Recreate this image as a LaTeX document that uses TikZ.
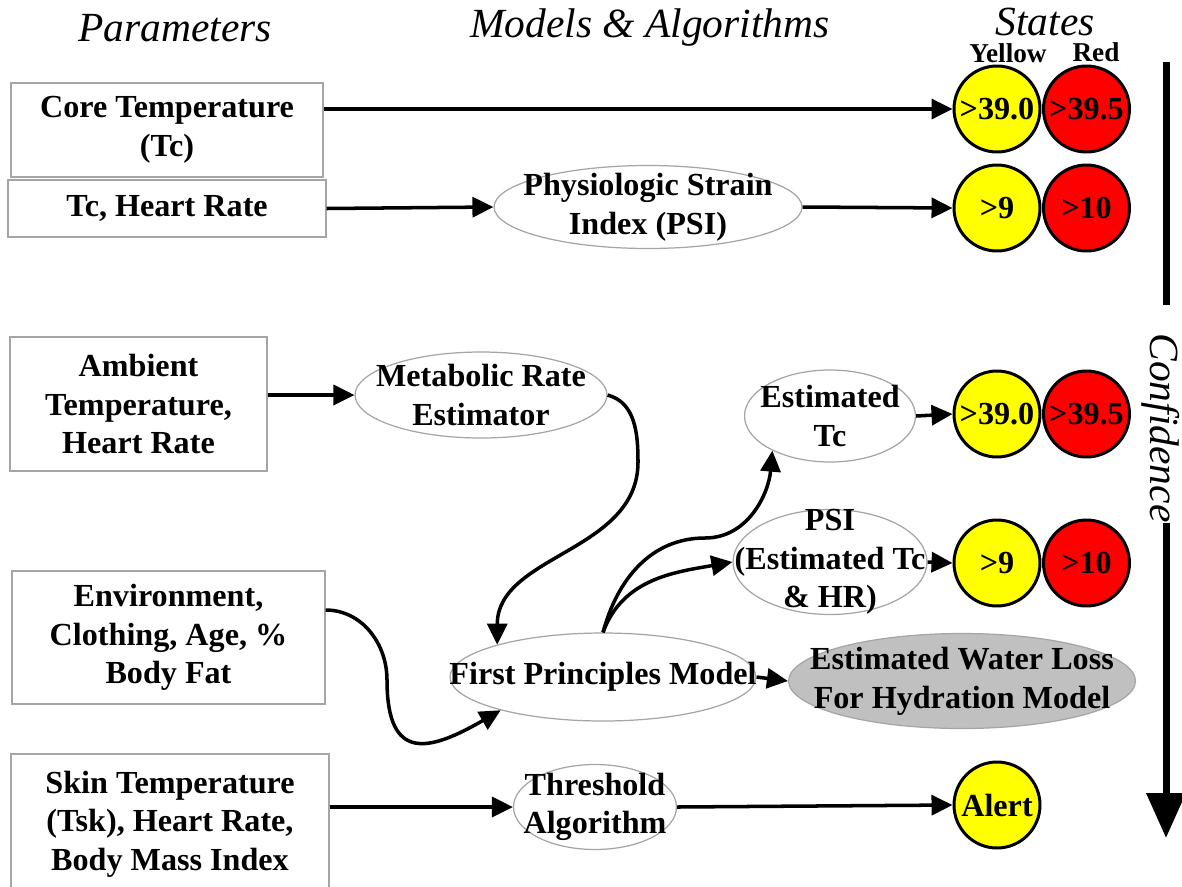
\documentclass[tikz,border=0pt]{standalone}
\usepackage{fontspec}
\setmainfont{Liberation Serif}
\usepackage{tikz}
\usetikzlibrary{positioning, shapes.geometric, arrows.meta}

\definecolor{boxgray}{RGB}{165,165,165}
\definecolor{lossgray}{RGB}{192,192,192}
\definecolor{lampyellow}{RGB}{255,255,0}
\definecolor{lampred}{RGB}{255,0,0}

\newcommand{\bodyfont}{\fontsize{18.3}{22}\selectfont\bfseries}
\newcommand{\headfont}{\fontsize{23.6}{28}\selectfont\itshape}
\newcommand{\colfont}{\fontsize{15.5}{18}\selectfont\bfseries}

\begin{document}
\begin{tikzpicture}[x=0.02cm, y=-0.02cm,
    param/.style={rectangle, draw=boxgray, line width=0.7pt, inner sep=0pt, align=center, font=\bodyfont},
    model/.style={ellipse, draw=boxgray, line width=0.7pt, inner sep=0pt,
        label={[font=\bodyfont, align=center, inner sep=0pt]center:#1}},
    lamp/.style={circle, draw=black, line width=1.7pt, minimum size=1.72cm, inner sep=0pt, font=\bodyfont},
    yellowlamp/.style={lamp, fill=lampyellow},
    redlamp/.style={lamp, fill=lampred},
    heading/.style={font=\headfont, inner sep=1pt},
    flow/.style={line width=2pt, -{Triangle[length=0.42cm,width=0.4cm]}}]

    \fill[white] (0,0) rectangle (1182,886);
    \useasboundingbox (0,0) rectangle (1182,886);

    % column headings
    \node[heading] (hparam) at (175,28) {Parameters};
    \node[heading] (hmodel) at (650,28) {Models \& Algorithms};
    \node[heading, inner sep=0pt] (hstate) at (1045,22) {States};
    \node[font=\colfont, inner sep=0pt] (hyellow) at (1008,53) {Yellow};
    \node[font=\colfont, inner sep=0pt] (hred) at (1096,52) {Red};

    % parameters
    \node[param, minimum width=6.24cm, minimum height=1.88cm] (core) at (167,130) {Core Temperature\\(Tc)};
    \node[param, minimum width=6.36cm, minimum height=1.14cm] (tchr) at (167,208.5) {Tc, Heart Rate};
    \node[param, minimum width=5.14cm, minimum height=2.68cm] (ambient) at (138.5,404) {Ambient\\Temperature,\\Heart Rate};
    \node[param, minimum width=6.26cm, minimum height=2.66cm] (env) at (168.5,637.5) {Environment,\\Clothing, Age, \%\\Body Fat};
    \node[param, minimum width=6.36cm, minimum height=2.8cm] (skin) at (170,824) {Skin Temperature\\(Tsk), Heart Rate,\\Body Mass Index};

    % models
    \node[model={Physiologic Strain\\Index (PSI)}, minimum width=6.16cm, minimum height=1.66cm] (psi) at (648,207) {};
    \node[model={Metabolic Rate\\Estimator}, minimum width=5.04cm, minimum height=1.72cm] (metab) at (481,395) {};
    \node[model={Estimated\\Tc}, minimum width=3.42cm, minimum height=1.84cm] (esttc) at (830,416) {};
    \node[model={PSI\\(Estimated Tc\\\& HR)}, minimum width=3.88cm, minimum height=2.1cm] (psiest) at (830,562) {};
    \node[model={First Principles Model}, minimum width=6.12cm, minimum height=1.76cm] (fpm) at (603,677) {};
    \node[model={Estimated Water Loss\\For Hydration Model}, fill=lossgray, minimum width=6.94cm, minimum height=1.9cm] (water) at (962,681) {};
    \node[model={Threshold\\Algorithm}, minimum width=3.26cm, minimum height=1.7cm] (thresh) at (595,807) {};

    % states
    \node[yellowlamp] (ya) at (997,109) {>39.0};
    \node[redlamp, right=0.01cm of ya] (ra) {>39.5};
    \node[yellowlamp] (yb) at (997,208) {>9};
    \node[redlamp, right=0.01cm of yb] (rb) {>10};
    \node[yellowlamp] (yc) at (997,414) {>39.0};
    \node[redlamp, right=0.01cm of yc] (rc) {>39.5};
    \node[yellowlamp] (yd) at (997,563) {>9};
    \node[redlamp, right=0.01cm of yd] (rd) {>10};
    \node[yellowlamp] (alert) at (997,805) {Alert};

    \coordinate (metbend) at (638,462);
    \coordinate (envout) at ([yshift=0.55cm]env.east);
    \coordinate (envbend) at (387,680);
    \coordinate (tcbend) at (705,538);

    \draw[flow] (core.east |- ya.west) -- (ya.west);
    \draw[flow] (tchr.east) -- (psi.west);
    \draw[flow] (psi.east) -- (yb.west);
    \draw[flow] (ambient.east |- metab.west) -- (metab.west);
    \draw[flow] (metab.east) to[out=-15,in=90] (metbend) to[out=-90,in=90] (fpm.163);
    \draw[flow] (envout) to[out=0,in=90] (envbend) to[out=-90,in=-150,looseness=1.8] (fpm.198);
    \draw[flow] (fpm.north) to[out=75,in=180] (tcbend) to[out=0,in=-95] (esttc.211);
    \draw[flow] (fpm.north) to[out=70,in=190] (psiest.west);
    \draw[flow] (esttc.east) -- (yc.west);
    \draw[flow] (psiest.east) -- (yd.west);
    \draw[flow] (fpm.east) -- (water.west);
    \draw[flow] (skin.east |- thresh.west) -- (thresh.west);
    \draw[flow] (thresh.east) -- (alert.west);

    % confidence axis
    \coordinate (bartop) at (1166,62);
    \coordinate (barend) at (1166,305);
    \coordinate (conftip) at (1166,838);
    \node[heading, rotate=-90, inner sep=0pt] (conf) at (1161,428) {Confidence};
    \draw[line width=4pt] (bartop) -- (barend);
    \draw[line width=4pt, -{Triangle[length=0.9cm,width=0.76cm]}] (conf.east -| conftip) -- (conftip);
\end{tikzpicture}
\end{document}
